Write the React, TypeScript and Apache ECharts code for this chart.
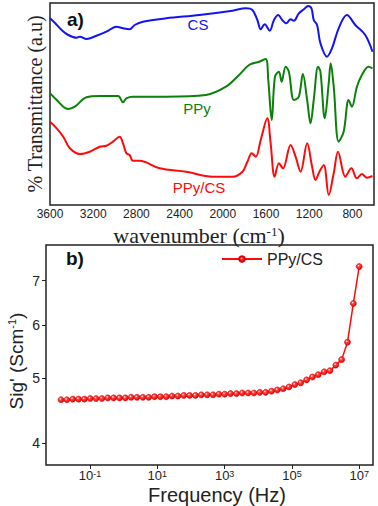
import React, { useEffect, useRef } from 'react';
import * as echarts from 'echarts';

// ---- Panel a) FTIR spectra (wavenumber cm-1, transmittance a.u.) ----
const csWave = [3600, 3554, 3492, 3431, 3354, 3323, 3262, 3170, 3078, 2986, 2924, 2863, 2816, 2740, 2524, 2217, 1911, 1787, 1726, 1680, 1649, 1612, 1566, 1526, 1487, 1450, 1413, 1372, 1342, 1296, 1249, 1210, 1179, 1158, 1127, 1096, 1035, 989, 927, 851, 773, 681, 614];
const csT = [186.7, 182, 175, 170, 167.3, 168.3, 166, 169.3, 173.3, 178.3, 176.7, 175.7, 180, 183.3, 186.7, 190, 194.3, 196.7, 195, 185, 175.7, 180.7, 174.3, 185, 190, 185, 181.7, 185.7, 184.3, 191.7, 195.7, 199, 196.7, 185, 180, 161.7, 148.3, 156.7, 176.7, 190, 180, 170, 153.3];

const ppyWave = [3600, 3538, 3477, 3431, 3370, 3262, 3139, 2970, 2924, 2893, 2832, 2524, 2156, 1971, 1849, 1757, 1664, 1603, 1579, 1547, 1517, 1480, 1455, 1418, 1388, 1342, 1296, 1259, 1219, 1188, 1158, 1118, 1096, 1056, 1019, 1001, 973, 927, 881, 835, 805, 758, 712, 651, 614];
const ppyT = [111.7, 105, 98.3, 96, 98.3, 107.7, 109, 109, 102.7, 106.7, 108.3, 108.3, 110, 118.3, 130, 140, 143.3, 146, 125, 85, 128.3, 133.3, 123.3, 138.3, 133.3, 105, 108.3, 131, 105, 81.7, 105, 138.3, 133.3, 86.7, 122, 141.7, 118.3, 63.3, 73.3, 105, 98.3, 118.3, 130, 138.3, 136.7];

const compWave = [3600, 3538, 3477, 3416, 3323, 3231, 3139, 3077, 3017, 2955, 2924, 2893, 2863, 2832, 2770, 2586, 2340, 2095, 1911, 1818, 1772, 1732, 1695, 1649, 1588, 1557, 1520, 1480, 1443, 1372, 1326, 1280, 1219, 1173, 1142, 1105, 1065, 1019, 973, 933, 865, 810, 758, 712, 666, 614];
const compT = [83.3, 76.7, 68.3, 56.7, 51, 53.3, 58.3, 59.3, 63.3, 68.3, 61.7, 51.7, 50, 44.3, 44.3, 36.7, 33.3, 28.3, 28.3, 33.3, 43.3, 51.7, 48.3, 65, 86.7, 61.7, 28.3, 41.7, 36.7, 60, 48.3, 33.3, 61.7, 38.3, 25, 33.3, 40, 10, 31.7, 53.3, 28.3, 36.7, 26.7, 31, 27.3, 29];

const waveTickLabels = [3600, 3200, 2800, 2400, 2000, 1600, 1200, 800];

// ---- Panel b) AC conductivity vs frequency ----
const freqHz = [0.0137, 0.0204, 0.0305, 0.0454, 0.0678, 0.101, 0.151, 0.225, 0.336, 0.501, 0.748, 1.12, 1.67, 2.48, 3.71, 5.53, 8.26, 12.3, 18.4, 27.4, 40.9, 61.1, 91.2, 136, 203, 303, 452, 674, 1005, 1500, 2239, 3342, 4989, 7430, 11090, 16560, 24720, 36900, 54950, 82040, 122500, 182800, 272900, 406400, 606700, 905700, 1352000, 2018000, 3006000, 4487000, 6699000, 10000000];
const sigValues = [4.64, 4.64, 4.65, 4.65, 4.65, 4.66, 4.66, 4.66, 4.67, 4.67, 4.67, 4.67, 4.68, 4.68, 4.68, 4.68, 4.69, 4.69, 4.69, 4.70, 4.70, 4.71, 4.71, 4.71, 4.72, 4.72, 4.72, 4.73, 4.73, 4.74, 4.74, 4.75, 4.75, 4.75, 4.76, 4.76, 4.78, 4.80, 4.82, 4.85, 4.89, 4.92, 4.97, 5.02, 5.06, 5.11, 5.13, 5.23, 5.33, 5.66, 6.47, 7.35];

const freqTickExponents = [-1, 1, 3, 5, 7];
const sigTickLabels = [4, 5, 6, 7];

const SANS = '"Liberation Sans", Arial, Helvetica, sans-serif';
const SERIF = '"Liberation Serif", "Times New Roman", serif';
const BLUE = '#1414f0';
const GREEN = '#0a820a';
const RED = '#ff0a0a';
const INK = '#222';

export default function App() {
  const ref = useRef<HTMLDivElement>(null);

  useEffect(() => {
    if (!ref.current) return;
    const chart = echarts.init(ref.current, null, { renderer: 'svg' });

    const pair = (xs: number[], ys: number[]) => xs.map((x, i) => [x, ys[i]]);
    const log10 = (v: number) => Math.log10(v);

    const ball = new echarts.graphic.RadialGradient(0.38, 0.35, 0.65, [
      { offset: 0, color: '#ffffff' },
      { offset: 0.3, color: '#ff4a4a' },
      { offset: 1, color: '#e00000' },
    ]);

    const option: any = {
      animation: false,
      backgroundColor: '#fff',
      grid: [
        { left: 50, right: 4, top: 3, height: 202, show: true, borderColor: INK, borderWidth: 1.5 },
        { left: 46, right: 5, top: 245, height: 220, show: true, borderColor: INK, borderWidth: 1.5 },
      ],
      xAxis: [
        {
          type: 'value',
          gridIndex: 0,
          inverse: true,
          min: 600,
          max: 3600,
          interval: 200,
          axisLine: { show: false, onZero: false },
          axisTick: { show: false },
          splitLine: { show: false },
          axisLabel: {
            fontFamily: SANS,
            fontSize: 12,
            color: INK,
            margin: 3,
            showMinLabel: true,
            showMaxLabel: true,
            formatter: (v: number) => (waveTickLabels.indexOf(v) >= 0 ? String(v) : ''),
          },
        },
        {
          type: 'value',
          gridIndex: 1,
          min: -2.31,
          max: 7.41,
          axisLine: { show: false, onZero: false },
          splitLine: { show: false },
          axisTick: {
            show: true,
            inside: false,
            length: 4,
            lineStyle: { color: INK, width: 1 },
            customValues: freqTickExponents,
          },
          axisLabel: {
            customValues: freqTickExponents,
            margin: 4,
            formatter: (v: number) => `{b|10}{s|${Math.round(v)}}`,
            rich: {
              b: { fontFamily: SANS, fontSize: 13, lineHeight: 13, color: INK },
              s: { fontFamily: SANS, fontSize: 9, lineHeight: 9, color: INK, verticalAlign: 'top' },
            },
          },
        },
      ],
      yAxis: [
        {
          type: 'value',
          gridIndex: 0,
          min: 0,
          max: 202,
          axisLine: { show: false, onZero: false },
          axisTick: { show: false },
          axisLabel: { show: false },
          splitLine: { show: false },
        },
        {
          type: 'value',
          gridIndex: 1,
          min: 0.5687,
          max: 0.8986,
          axisLine: { show: false, onZero: false },
          splitLine: { show: false },
          axisTick: {
            show: true,
            inside: false,
            length: 4,
            lineStyle: { color: INK, width: 1 },
            customValues: sigTickLabels.map(log10),
          },
          axisLabel: {
            customValues: sigTickLabels.map(log10),
            fontFamily: SANS,
            fontSize: 14,
            color: INK,
            margin: 6,
            formatter: (v: number) => String(Math.round(Math.pow(10, v))),
          },
        },
      ],
      legend: {
        data: ['PPy/CS'],
        left: 216,
        top: 246,
        itemWidth: 40,
        itemHeight: 7,
        textStyle: { fontFamily: SANS, fontSize: 16, color: INK },
      },
      series: [
        {
          name: 'CS',
          type: 'line',
          xAxisIndex: 0,
          yAxisIndex: 0,
          data: pair(csWave, csT),
          showSymbol: false,
          smooth: 0.35,
          lineStyle: { color: BLUE, width: 2 },
          itemStyle: { color: BLUE },
        },
        {
          name: 'PPy',
          type: 'line',
          xAxisIndex: 0,
          yAxisIndex: 0,
          data: pair(ppyWave, ppyT),
          showSymbol: false,
          smooth: 0.35,
          lineStyle: { color: GREEN, width: 2 },
          itemStyle: { color: GREEN },
        },
        {
          name: 'PPy/CS FTIR',
          type: 'line',
          xAxisIndex: 0,
          yAxisIndex: 0,
          data: pair(compWave, compT),
          showSymbol: false,
          smooth: 0.35,
          lineStyle: { color: RED, width: 2 },
          itemStyle: { color: RED },
        },
        {
          name: 'PPy/CS',
          type: 'line',
          xAxisIndex: 1,
          yAxisIndex: 1,
          data: freqHz.map((f, i) => [log10(f), log10(sigValues[i])]),
          symbol: 'circle',
          symbolSize: 6,
          lineStyle: { color: RED, width: 1.5 },
          itemStyle: { color: ball, borderColor: '#e00000', borderWidth: 0.6 },
        },
      ],
      graphic: [
        {
          type: 'text', left: 67, top: 10,
          style: { text: 'a)', font: `bold 19px ${SANS}`, fill: '#111' },
        },
        {
          type: 'text', x: 198, y: 24,
          style: { text: 'CS', font: `15px ${SANS}`, fill: BLUE, align: 'center', verticalAlign: 'middle' },
        },
        {
          type: 'text', x: 197, y: 108,
          style: { text: 'PPy', font: `15px ${SANS}`, fill: GREEN, align: 'center', verticalAlign: 'middle' },
        },
        {
          type: 'text', x: 199, y: 187,
          style: { text: 'PPy/CS', font: `15px ${SANS}`, fill: RED, align: 'center', verticalAlign: 'middle' },
        },
        {
          type: 'text', x: 35, y: 104, rotation: Math.PI / 2,
          style: { text: '% Transmittance (a.u)', font: `20px ${SERIF}`, fill: INK, align: 'center', verticalAlign: 'middle' },
        },
        {
          type: 'text', x: 199, y: 235,
          style: {
            text: '{a|wavenumber (cm}{s|-1}{a|)}',
            align: 'center',
            verticalAlign: 'middle',
            rich: {
              a: { fontFamily: SERIF, fontSize: 22, lineHeight: 20, fill: INK, color: INK },
              s: { fontFamily: SERIF, fontSize: 13, lineHeight: 13, fill: INK, color: INK, verticalAlign: 'top' },
            },
          },
        },
        {
          type: 'text', left: 66, top: 249,
          style: { text: 'b)', font: `bold 19px ${SANS}`, fill: '#111' },
        },
        {
          type: 'text', x: 16, y: 361, rotation: Math.PI / 2,
          style: {
            text: "{a|Sig' (Scm}{s|-1}{a|)}",
            align: 'center',
            verticalAlign: 'middle',
            rich: {
              a: { fontFamily: SANS, fontSize: 19, fill: INK, color: INK },
              s: { fontFamily: SANS, fontSize: 11, fill: INK, color: INK, verticalAlign: 'top' },
            },
          },
        },
        {
          type: 'text', x: 217, y: 495,
          style: {
            text: 'Frequency (Hz)', font: `20px ${SANS}`, lineHeight: 19,
            fill: INK, align: 'center', verticalAlign: 'middle',
          },
        },
      ],
    };

    chart.setOption(option);
    return () => chart.dispose();
  }, []);

  return (
    <div
      ref={ref}
      style={{ position: 'fixed', left: 0, top: 0, width: 378, height: 506, background: '#fff' }}
    />
  );
}
